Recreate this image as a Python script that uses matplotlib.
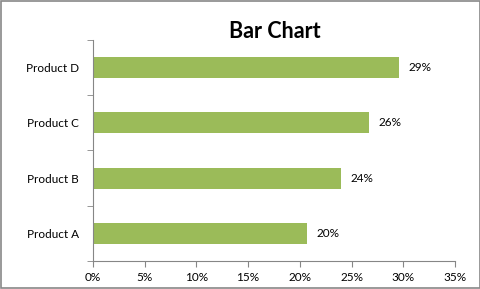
import matplotlib.pyplot as plt
from matplotlib.patches import Rectangle
from matplotlib.ticker import FuncFormatter

products = ["Product A", "Product B", "Product C", "Product D"]
shares = [0.207, 0.240, 0.267, 0.296]
share_labels = ["20%", "24%", "26%", "29%"]
x_ticks = [0, 0.05, 0.10, 0.15, 0.20, 0.25, 0.30, 0.35]

plt.rcParams['font.family'] = ['Lato', 'DejaVu Sans']

fig = plt.figure(figsize=(4.81, 2.89), dpi=100)
ax = fig.add_axes([0.193, 0.097, 0.753, 0.765])

ypos = range(len(products))
ax.barh(ypos, shares, height=0.38, color='#9bbb59')
for y, v, lab in zip(ypos, shares, share_labels):
    ax.text(v + 0.009, y, lab, va='center', ha='left', fontsize=8.5)

ax.set_xlim(0, 0.35)
ax.set_ylim(-0.5, len(products) - 0.5)
ax.set_xticks(x_ticks)
ax.xaxis.set_major_formatter(FuncFormatter(lambda v, p: f"{round(v * 100)}%"))
ax.set_yticks(list(ypos))
ax.set_yticklabels(products)
ax.set_yticks([i - 0.5 for i in range(len(products) + 1)], minor=True)
ax.tick_params(axis='y', which='major', length=0, labelsize=8.5, pad=10)
ax.tick_params(axis='y', which='minor', length=4, color='#868686', direction='out')
ax.tick_params(axis='x', length=4, color='#868686', labelsize=8.5, pad=4)

for s in ['top', 'right']:
    ax.spines[s].set_visible(False)
for s in ['left', 'bottom']:
    ax.spines[s].set_color('#868686')

fig.text(0.572, 0.89, "Bar Chart", ha='center', va='center', fontsize=15.5, fontweight='bold')
fig.patches.append(Rectangle((0.002, 0.003), 0.996, 0.994, transform=fig.transFigure,
                             fill=False, edgecolor='#888888', linewidth=1.2))

fig.savefig("out.png", dpi=100)
